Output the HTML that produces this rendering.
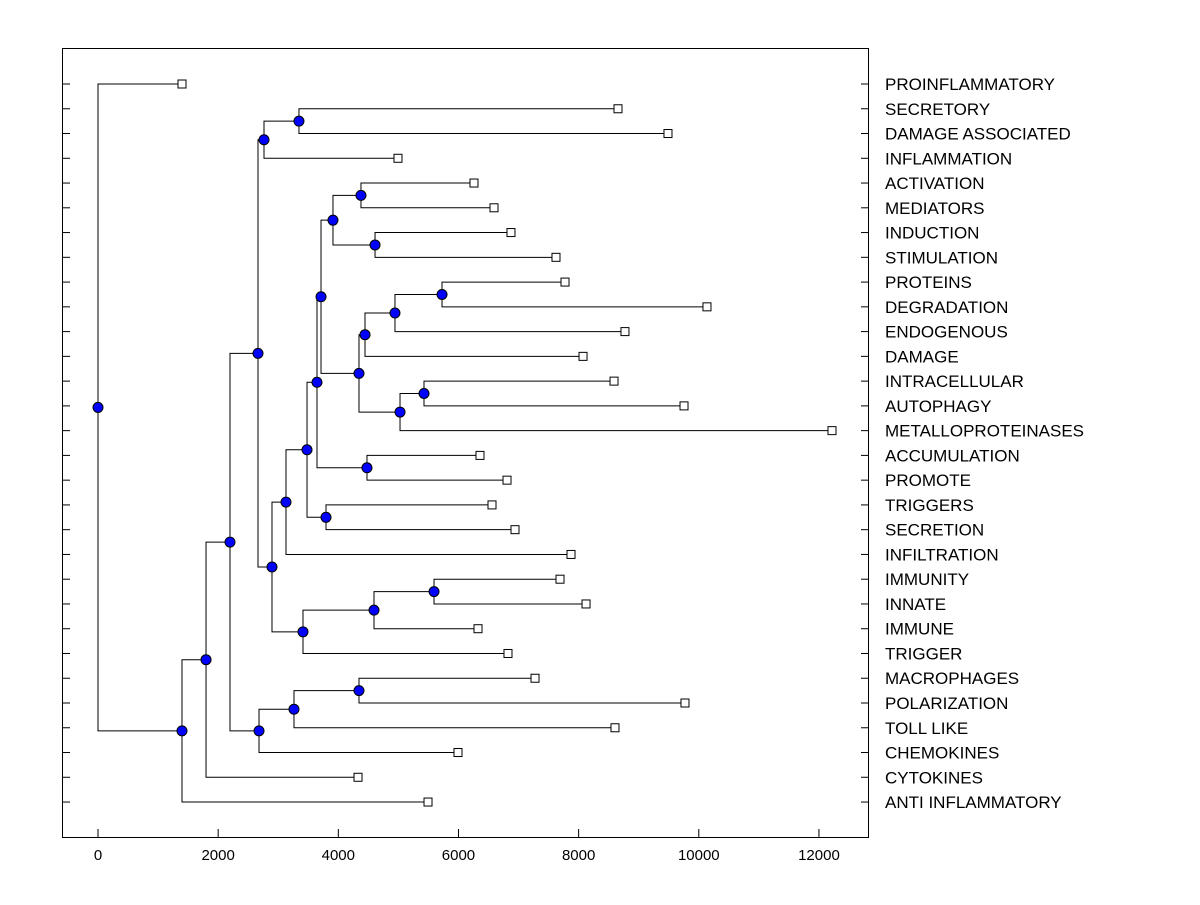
<!DOCTYPE html>
<html><head><meta charset="utf-8"><style>
body{margin:0;background:#fff}
svg text{font-family:"Liberation Sans",Arial,sans-serif}
</style></head><body>
<svg id="chart" width="1200" height="900" xmlns="http://www.w3.org/2000/svg">
<rect x="0" y="0" width="1200" height="900" fill="#fff"/>
<rect x="62.5" y="48.5" width="806" height="789" fill="none" stroke="#000" stroke-width="1"/>
<g id="g"></g>
</svg>
<script>
const leafNames=["PROINFLAMMATORY","SECRETORY","DAMAGE ASSOCIATED","INFLAMMATION","ACTIVATION","MEDIATORS","INDUCTION","STIMULATION","PROTEINS","DEGRADATION","ENDOGENOUS","DAMAGE","INTRACELLULAR","AUTOPHAGY","METALLOPROTEINASES","ACCUMULATION","PROMOTE","TRIGGERS","SECRETION","INFILTRATION","IMMUNITY","INNATE","IMMUNE","TRIGGER","MACROPHAGES","POLARIZATION","TOLL LIKE","CHEMOKINES","CYTOKINES","ANTI INFLAMMATORY"];
const leafValues=[1398,8655,9487,4993,6258,6591,6874,7623,7773,10136,8771,8073,8589,9754,12217,6358,6808,6558,6941,7873,7690,8123,6325,6824,7274,9770,8605,5992,4328,5493];
// tree: [height, left, right]; numbers = leaf indices
const tree=[0,0,[1398,[1798,[2197,[2663,[2763,[3345,1,2],3],[2896,[3129,[3479,[3645,[3712,[3911,[4377,4,5],[4611,6,7]],[4344,[4444,[4943,[5726,8,9],10],11],[5027,[5426,12,13],14]]],[4477,15,16]],[3795,17,18]],19],[3412,[4594,[5593,20,21],22],23]]],[2680,[3262,[4344,24,25],26],27]],28],29]];
const xTicks=[0,2000,4000,6000,8000,10000,12000];
const NS="http://www.w3.org/2000/svg",g=document.getElementById('g');
const X=v=>98+v*0.06008, Y=i=>84+i*24.76;
function mk(t,a){const e=document.createElementNS(NS,t);for(const k in a)e.setAttribute(k,a[k]);g.appendChild(e);return e;}
const circles=[];
function draw(n){
  if(typeof n==='number') return {x:X(leafValues[n]),y:Y(n)};
  const a=draw(n[1]),b=draw(n[2]),x=X(n[0]),y=(a.y+b.y)/2;
  const p=mk('path',{d:`M${a.x},${a.y}H${x}V${b.y}H${b.x}`,fill:'none',stroke:'#000','stroke-width':1});
  
  
  circles.push([x,y]);
  return {x,y};
}
draw(tree);
circles.forEach(c=>{const e=mk('circle',{cx:c[0],cy:c[1],r:5,fill:'#0000ff',stroke:'#000','stroke-width':1});
  
  });
leafNames.forEach((nm,i)=>{
  const y=Y(i);
  const t1=mk('line',{x1:62,x2:70,y1:y,y2:y,stroke:'#000'});
  
  
  const t2=mk('line',{x1:861,x2:869,y1:y,y2:y,stroke:'#000'});
  
  
  const r=mk('rect',{x:X(leafValues[i])-4,y:y-4,width:8,height:8,fill:'#fff',stroke:'#000'});
  
  
  const t=mk('text',{x:885,y:y+6,'font-size':17});
  t.textContent=nm;
  
  
});
xTicks.forEach(v=>{
  const l=mk('line',{x1:X(v),x2:X(v),y1:829,y2:838,stroke:'#000'});
  
  
  const t=mk('text',{x:X(v),y:860,'font-size':15,'text-anchor':'middle'});
  t.textContent=v;
  
  
});
</script>
</body></html>
